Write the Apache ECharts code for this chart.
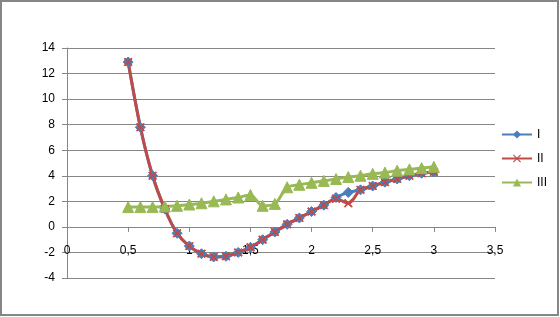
<!DOCTYPE html>
<html>
<head>
<meta charset="utf-8">
<script src="https://cdn.jsdelivr.net/npm/echarts@6/dist/echarts.min.js"></script>
<style>
html,body{margin:0;padding:0;background:#fff;}
#c{width:560px;height:317px;}
</style>
</head>
<body>
<div id="c"></div>
<script>
var xValues = [0.5,0.6,0.7,0.8,0.9,1.0,1.1,1.2,1.3,1.4,1.5,1.6,1.7,1.8,1.9,2.0,2.1,2.2,2.3,2.4,2.5,2.6,2.7,2.8,2.9,3.0];
var seriesI   = [12.9,7.8,4.0,1.4,-0.5,-1.5,-2.1,-2.35,-2.3,-2.0,-1.6,-1.0,-0.4,0.2,0.7,1.2,1.7,2.3,2.7,2.9,3.2,3.5,3.75,4.0,4.2,4.3];
var seriesII  = [12.9,7.8,4.0,1.4,-0.5,-1.5,-2.1,-2.35,-2.3,-2.0,-1.6,-1.0,-0.4,0.2,0.7,1.2,1.7,2.2,1.85,2.9,3.2,3.5,3.75,4.0,4.2,4.3];
var seriesIII = [1.55,1.55,1.55,1.6,1.65,1.75,1.85,2.0,2.15,2.3,2.5,1.65,1.8,3.1,3.3,3.45,3.6,3.75,3.9,4.0,4.15,4.25,4.4,4.5,4.6,4.7];
var seriesNames = ['I','II','III'];
var xTicks = {min:0, max:3.5, interval:0.5};
var yTicks = {min:-4, max:14, interval:2};

function pairs(ys){ return xValues.map(function(x,i){ return [x, ys[i]]; }); }

var xMarker = 'path://M1,0 L5,4 L9,0 L10,1 L6,5 L10,9 L9,10 L5,6 L1,10 L0,9 L4,5 L0,1 Z';
var font = 'Liberation Sans';
var gridTop = 48, gridBottom = 39, H = 317;
var plotH = H - gridTop - gridBottom;
var zeroOffset = plotH * (0 - yTicks.min) / (yTicks.max - yTicks.min);

var chart = echarts.init(document.getElementById('c'), null, {renderer:'canvas'});
chart.setOption({
  animation:false,
  backgroundColor:'#ffffff',
  textStyle:{fontFamily:font},
  graphic:[{type:'rect', shape:{x:1,y:1,width:557,height:314}, style:{fill:'none', stroke:'#868686', lineWidth:2}, silent:true}],
  grid:{left:67, right:65, top:gridTop, bottom:gridBottom, containLabel:false},
  legend:{
    orient:'vertical', right:8, top:'middle', itemWidth:30, itemHeight:10, itemGap:12,
    textStyle:{fontFamily:font, fontSize:12, color:'#000'},
    data:seriesNames
  },
  xAxis:{
    type:'value', min:xTicks.min, max:xTicks.max, interval:xTicks.interval,
    position:'bottom', offset:-zeroOffset,
    axisLine:{show:true, onZero:false, lineStyle:{color:'#868686', width:1}},
    axisTick:{show:true, inside:false, length:5, lineStyle:{color:'#868686'}},
    axisLabel:{margin:18, fontSize:12, color:'#000', fontFamily:font,
      formatter:function(v){ return String(v).replace('.', ','); }},
    splitLine:{show:false}
  },
  yAxis:{
    type:'value', min:yTicks.min, max:yTicks.max, interval:yTicks.interval,
    axisLine:{show:true, lineStyle:{color:'#868686', width:1}},
    axisTick:{show:true, inside:false, length:5, lineStyle:{color:'#868686'}},
    axisLabel:{margin:12, fontSize:12, color:'#000', fontFamily:font},
    splitLine:{show:true, lineStyle:{color:'#868686', width:1}}
  },
  series:[
    {name:seriesNames[0], type:'line', data:pairs(seriesI), smooth:0.3,
     symbol:'diamond', symbolSize:10,
     lineStyle:{color:'#4A7EBB', width:3}, itemStyle:{color:'#4A7EBB', borderColor:'#4A7EBB'}},
    {name:seriesNames[1], type:'line', data:pairs(seriesII), smooth:0.3,
     symbol:xMarker, symbolSize:8,
     lineStyle:{color:'#BE4B48', width:3}, itemStyle:{color:'#BE4B48', borderColor:'#BE4B48'}},
    {name:seriesNames[2], type:'line', data:pairs(seriesIII), smooth:0.3,
     symbol:'triangle', symbolSize:11,
     lineStyle:{color:'#98B954', width:3}, itemStyle:{color:'#98B954', borderColor:'#98B954'}}
  ]
});
</script>
</body>
</html>
